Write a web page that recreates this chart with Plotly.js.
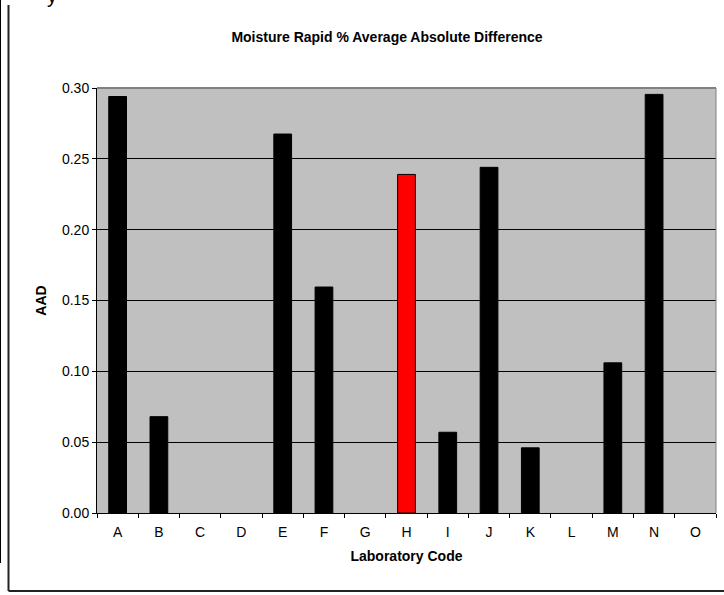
<!DOCTYPE html>
<html>
<head>
<meta charset="utf-8">
<script src="https://cdn.plot.ly/plotly-3.0.1.min.js"></script>
<style>html,body{margin:0;padding:0;background:#fff;}#chart{width:724px;height:595px;}</style>
</head>
<body>
<div id="chart"></div>
<script>
const labs = ["A","B","C","D","E","F","G","H","I","J","K","L","M","N","O"];
const aad = [0.294, 0.068, 0, 0, 0.2675, 0.1595, 0, 0.239, 0.057, 0.244, 0.046, 0, 0.106, 0.2955, 0];
const highlightLab = "H";
const yTicks = [0, 0.05, 0.10, 0.15, 0.20, 0.25, 0.30];
const yTickText = ["0.00","0.05","0.10","0.15","0.20","0.25","0.30"];

const L = 97, R = 716, T = 88, B = 513, W = 724, H = 595;
const px = x => (x - L) / (R - L);
const py = y => (B - y) / (B - T);

const colors = labs.map(l => l === highlightLab ? "#FF0000" : "#000000");
const lineWidths = aad.map(v => v > 0 ? 1 : 0);
const font = "Arial, 'Liberation Sans', sans-serif";
const fs = 14;

const trace = {
  type: "bar",
  x: labs,
  y: aad,
  marker: {color: colors, line: {color: "#000000", width: lineWidths}},
  hoverinfo: "x+y"
};

const layout = {
  width: W, height: H,
  margin: {l: L, r: W - R, t: T, b: H - B, pad: 0},
  paper_bgcolor: "#ffffff",
  plot_bgcolor: "#C0C0C0",
  bargap: 0.57,
  showlegend: false,
  font: {family: font, size: fs, color: "#000"},
  title: {
    text: "<b>Moisture Rapid % Average Absolute Difference</b>",
    font: {family: font, size: 14, color: "#000"},
    xref: "container", x: 387 / W, xanchor: "center",
    yref: "container", y: 1 - 37 / H, yanchor: "middle"
  },
  xaxis: {
    type: "category",
    tickson: "boundaries",
    ticks: "outside", ticklen: 4, tickwidth: 1, tickcolor: "#000",
    ticklabelstandoff: 6,
    showline: true, linecolor: "#000", linewidth: 1,
    showgrid: false, zeroline: false,
    tickfont: {family: font, size: fs, color: "#000"},
    title: {text: "<b>Laboratory Code</b>", font: {family: font, size: fs, color: "#000"}, standoff: 12}
  },
  yaxis: {
    range: [0, 0.30],
    tickvals: yTicks, ticktext: yTickText,
    ticks: "outside", ticklen: 4, tickwidth: 1, tickcolor: "#000",
    showline: true, linecolor: "#000", linewidth: 1,
    showgrid: true, gridcolor: "#000", gridwidth: 1,
    zeroline: false,
    tickfont: {family: font, size: fs, color: "#000"},
    title: {text: "<b>AAD</b>", font: {family: font, size: fs, color: "#000"}, standoff: 12}
  },
  shapes: [
    {type: "line", xref: "paper", yref: "paper", x0: 0, x1: 1, y0: 1, y1: 1, line: {color: "#808080", width: 2}},
    {type: "line", xref: "paper", yref: "paper", x0: 1, x1: 1, y0: 0, y1: 1, line: {color: "#808080", width: 1}},
    {type: "line", xref: "paper", yref: "paper", x0: px(8.5), x1: px(8.5), y0: py(5), y1: py(591), line: {color: "#222", width: 2}},
    {type: "line", xref: "paper", yref: "paper", x0: px(8.5), x1: px(730), y0: py(591), y1: py(591), line: {color: "#222", width: 2}},
    {type: "line", xref: "paper", yref: "paper", x0: px(0.5), x1: px(0.5), y0: py(-5), y1: py(563), line: {color: "#000", width: 1}}
  ],
  annotations: [
    {text: "y", xref: "paper", yref: "paper", x: px(52), y: py(-4), xanchor: "center", yanchor: "middle", showarrow: false, font: {family: font, size: 20, color: "#000"}}
  ]
};

Plotly.newPlot("chart", [trace], layout, {displayModeBar: false, staticPlot: true});
</script>
</body>
</html>
